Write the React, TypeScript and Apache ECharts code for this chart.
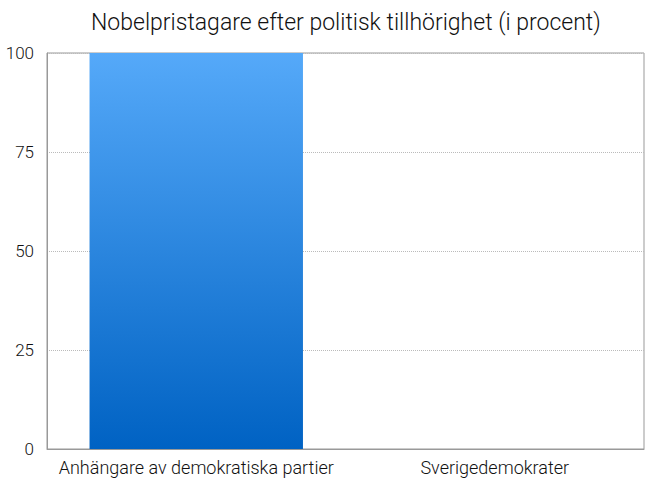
import React, { useEffect, useRef } from "react";
import * as echarts from "echarts";

const categories = ["Anhängare av demokratiska partier", "Sverigedemokrater"];
const values = [100, 0];
const titleText = "Nobelpristagare efter politisk tillhörighet (i procent)";

export default function App() {
  const ref = useRef<HTMLDivElement>(null);
  useEffect(() => {
    document.body.style.margin = "0";
    const chart = echarts.init(ref.current!, null, { renderer: "svg" });
    const font = "Roboto, 'Liberation Sans', sans-serif";
    chart.setOption({
      animation: false,
      title: {
        text: titleText,
        left: 86,
        top: 6,
        textStyle: { fontFamily: font, fontWeight: 300, fontSize: 23, color: "#111" },
      },
      grid: {
        left: 47,
        right: 6,
        top: 53,
        bottom: 39,
        show: true,
        borderColor: "#999",
        borderWidth: 1,
      },
      xAxis: {
        type: "category",
        data: categories,
        axisLine: { show: true, lineStyle: { color: "#999" } },
        axisTick: { show: false },
        axisLabel: { interval: 0, fontFamily: font, fontWeight: 300, fontSize: 18, color: "#111", margin: 9 },
      },
      yAxis: {
        type: "value",
        min: 0,
        max: 100,
        interval: 25,
        axisLine: { show: true, lineStyle: { color: "#999" } },
        axisTick: { show: false },
        axisLabel: { fontFamily: font, fontWeight: 300, fontSize: 17, color: "#111", margin: 13 },
        splitLine: { show: true, lineStyle: { color: "#bbb", type: "dotted" } },
      },
      series: [
        {
          type: "bar",
          data: values,
          barWidth: "71.5%",
          itemStyle: {
            color: new echarts.graphic.LinearGradient(0, 0, 0, 1, [
              { offset: 0, color: "#55A9F9" },
              { offset: 1, color: "#0062C3" },
            ]),
          },
        },
      ],
    });
    return () => chart.dispose();
  }, []);
  return <div ref={ref} style={{ width: 650, height: 488 }} />;
}
